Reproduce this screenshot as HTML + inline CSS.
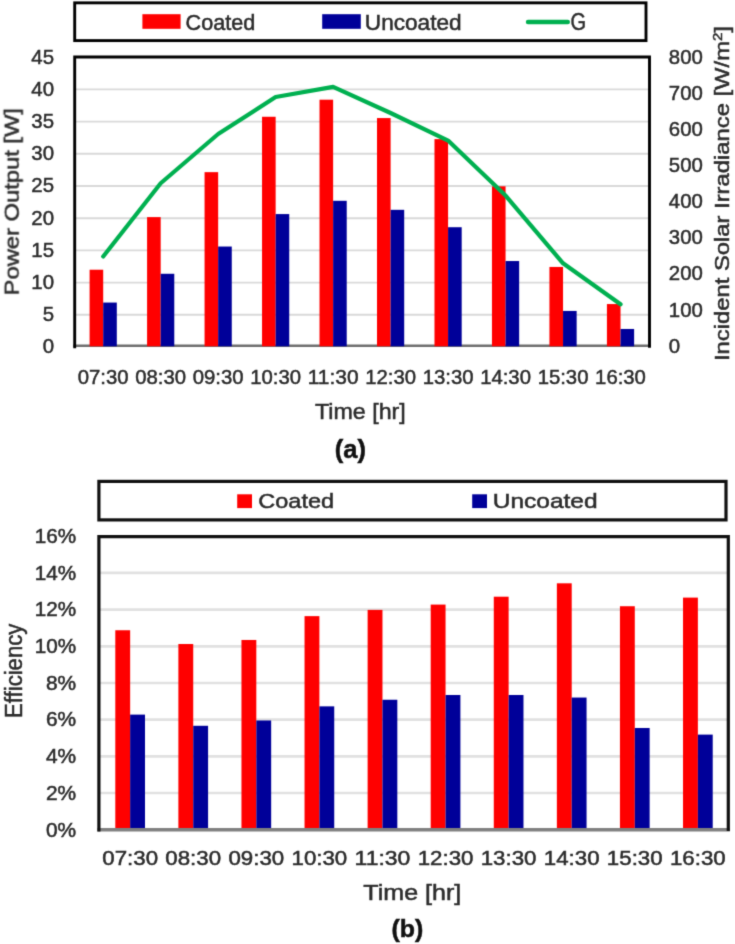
<!DOCTYPE html>
<html><head><meta charset="utf-8"><title>chart</title>
<style>
html,body{margin:0;padding:0;background:#fff;}
body{width:735px;height:944px;overflow:hidden;font-family:"Liberation Sans", sans-serif;}
svg{display:block;font-family:"Liberation Sans", sans-serif;will-change:transform;transform:translateZ(0);}
text{stroke-width:0.5px;paint-order:stroke fill;}
</style></head>
<body>
<svg width="735" height="944" viewBox="0 0 735 944">
<defs><filter id="soft" x="0" y="0" width="735" height="944" filterUnits="userSpaceOnUse" color-interpolation-filters="sRGB"><feConvolveMatrix order="3" kernelMatrix="0.01917 0.10012 0.01917 0.10012 0.52283 0.10012 0.01917 0.10012 0.01917" edgeMode="duplicate" preserveAlpha="false"/></filter></defs>
<rect width="735" height="944" fill="#ffffff"/>
<g filter="url(#soft)">
<rect width="735" height="944" fill="#ffffff"/>
<line x1="74.7" x2="649.5" y1="314.80" y2="314.80" stroke="#d9d9d9" stroke-width="1.9"/>
<line x1="74.7" x2="649.5" y1="282.60" y2="282.60" stroke="#d9d9d9" stroke-width="1.9"/>
<line x1="74.7" x2="649.5" y1="250.40" y2="250.40" stroke="#d9d9d9" stroke-width="1.9"/>
<line x1="74.7" x2="649.5" y1="218.20" y2="218.20" stroke="#d9d9d9" stroke-width="1.9"/>
<line x1="74.7" x2="649.5" y1="186.00" y2="186.00" stroke="#d9d9d9" stroke-width="1.9"/>
<line x1="74.7" x2="649.5" y1="153.80" y2="153.80" stroke="#d9d9d9" stroke-width="1.9"/>
<line x1="74.7" x2="649.5" y1="121.60" y2="121.60" stroke="#d9d9d9" stroke-width="1.9"/>
<line x1="74.7" x2="649.5" y1="89.40" y2="89.40" stroke="#d9d9d9" stroke-width="1.9"/>
<line x1="73.3" x2="651.0" y1="345.8" y2="345.8" stroke="#6e6e6e" stroke-width="2.6"/>
<rect x="89.60" y="269.72" width="13.6" height="76.58" fill="#ff0000"/>
<rect x="103.20" y="302.56" width="13.6" height="43.74" fill="#000099"/>
<rect x="147.08" y="217.11" width="13.6" height="129.19" fill="#ff0000"/>
<rect x="160.68" y="273.78" width="13.6" height="72.52" fill="#000099"/>
<rect x="204.56" y="172.15" width="13.6" height="174.15" fill="#ff0000"/>
<rect x="218.16" y="246.54" width="13.6" height="99.76" fill="#000099"/>
<rect x="262.04" y="116.77" width="13.6" height="229.53" fill="#ff0000"/>
<rect x="275.64" y="214.08" width="13.6" height="132.22" fill="#000099"/>
<rect x="319.52" y="99.70" width="13.6" height="246.60" fill="#ff0000"/>
<rect x="333.12" y="200.81" width="13.6" height="145.49" fill="#000099"/>
<rect x="377.00" y="118.06" width="13.6" height="228.24" fill="#ff0000"/>
<rect x="390.60" y="209.83" width="13.6" height="136.47" fill="#000099"/>
<rect x="434.48" y="139.12" width="13.6" height="207.18" fill="#ff0000"/>
<rect x="448.08" y="227.22" width="13.6" height="119.08" fill="#000099"/>
<rect x="491.96" y="186.32" width="13.6" height="159.98" fill="#ff0000"/>
<rect x="505.56" y="261.03" width="13.6" height="85.27" fill="#000099"/>
<rect x="549.44" y="266.95" width="13.6" height="79.35" fill="#ff0000"/>
<rect x="563.04" y="310.94" width="13.6" height="35.36" fill="#000099"/>
<rect x="606.92" y="304.05" width="13.6" height="42.25" fill="#ff0000"/>
<rect x="620.52" y="328.97" width="13.6" height="17.33" fill="#000099"/>
<polyline points="103.20,256.44 160.68,183.26 218.16,134.00 275.64,97.05 333.12,86.90 390.60,112.99 448.08,140.52 505.56,195.58 563.04,263.32 620.52,304.25" fill="none" stroke="#00b050" stroke-width="4.2" stroke-linejoin="round" stroke-linecap="round"/>
<path d="M74.7 348.3 V57 H649.5 V347.8" fill="none" stroke="#000" stroke-width="2.9" stroke-linejoin="miter"/>
<rect x="74.7" y="2.85" width="571.3" height="37.75" fill="#fff" stroke="#000" stroke-width="2.9"/>
<rect x="142.4" y="14.2" width="38.2" height="14.6" fill="#ff0000"/>
<text x="185.6" y="29.5" font-size="21.5" textLength="69.6" lengthAdjust="spacingAndGlyphs" fill="#2b2b2b" stroke="#2b2b2b">Coated</text>
<rect x="322.2" y="14.2" width="38.6" height="14.6" fill="#000099"/>
<text x="364.8" y="29.5" font-size="21.5" textLength="96.8" lengthAdjust="spacingAndGlyphs" fill="#2b2b2b" stroke="#2b2b2b">Uncoated</text>
<line x1="528" x2="567.8" y1="22.0" y2="22.0" stroke="#00b050" stroke-width="4.4" stroke-linecap="round"/>
<text x="570.6" y="29.8" font-size="23.5" textLength="15.6" lengthAdjust="spacingAndGlyphs" fill="#2b2b2b" stroke="#2b2b2b">G</text>
<text x="54.0" y="352.91" font-size="21" text-anchor="end" textLength="11.35" lengthAdjust="spacingAndGlyphs" fill="#2b2b2b" stroke="#2b2b2b">0</text>
<text x="54.0" y="320.82" font-size="21" text-anchor="end" textLength="11.35" lengthAdjust="spacingAndGlyphs" fill="#2b2b2b" stroke="#2b2b2b">5</text>
<text x="54.0" y="288.73" font-size="21" text-anchor="end" textLength="22.7" lengthAdjust="spacingAndGlyphs" fill="#2b2b2b" stroke="#2b2b2b">10</text>
<text x="54.0" y="256.64" font-size="21" text-anchor="end" textLength="22.7" lengthAdjust="spacingAndGlyphs" fill="#2b2b2b" stroke="#2b2b2b">15</text>
<text x="54.0" y="224.55" font-size="21" text-anchor="end" textLength="22.7" lengthAdjust="spacingAndGlyphs" fill="#2b2b2b" stroke="#2b2b2b">20</text>
<text x="54.0" y="192.46" font-size="21" text-anchor="end" textLength="22.7" lengthAdjust="spacingAndGlyphs" fill="#2b2b2b" stroke="#2b2b2b">25</text>
<text x="54.0" y="160.37" font-size="21" text-anchor="end" textLength="22.7" lengthAdjust="spacingAndGlyphs" fill="#2b2b2b" stroke="#2b2b2b">30</text>
<text x="54.0" y="128.28" font-size="21" text-anchor="end" textLength="22.7" lengthAdjust="spacingAndGlyphs" fill="#2b2b2b" stroke="#2b2b2b">35</text>
<text x="54.0" y="96.19" font-size="21" text-anchor="end" textLength="22.7" lengthAdjust="spacingAndGlyphs" fill="#2b2b2b" stroke="#2b2b2b">40</text>
<text x="54.0" y="64.10" font-size="21" text-anchor="end" textLength="22.7" lengthAdjust="spacingAndGlyphs" fill="#2b2b2b" stroke="#2b2b2b">45</text>
<text x="668.8" y="352.60" font-size="21" textLength="11.35" lengthAdjust="spacingAndGlyphs" fill="#2b2b2b" stroke="#2b2b2b">0</text>
<text x="668.8" y="316.50" font-size="21" textLength="34.0" lengthAdjust="spacingAndGlyphs" fill="#2b2b2b" stroke="#2b2b2b">100</text>
<text x="668.8" y="280.40" font-size="21" textLength="34.0" lengthAdjust="spacingAndGlyphs" fill="#2b2b2b" stroke="#2b2b2b">200</text>
<text x="668.8" y="244.30" font-size="21" textLength="34.0" lengthAdjust="spacingAndGlyphs" fill="#2b2b2b" stroke="#2b2b2b">300</text>
<text x="668.8" y="208.20" font-size="21" textLength="34.0" lengthAdjust="spacingAndGlyphs" fill="#2b2b2b" stroke="#2b2b2b">400</text>
<text x="668.8" y="172.10" font-size="21" textLength="34.0" lengthAdjust="spacingAndGlyphs" fill="#2b2b2b" stroke="#2b2b2b">500</text>
<text x="668.8" y="136.00" font-size="21" textLength="34.0" lengthAdjust="spacingAndGlyphs" fill="#2b2b2b" stroke="#2b2b2b">600</text>
<text x="668.8" y="99.90" font-size="21" textLength="34.0" lengthAdjust="spacingAndGlyphs" fill="#2b2b2b" stroke="#2b2b2b">700</text>
<text x="668.8" y="63.80" font-size="21" textLength="34.0" lengthAdjust="spacingAndGlyphs" fill="#2b2b2b" stroke="#2b2b2b">800</text>
<text x="103.20" y="384.3" font-size="21" text-anchor="middle" textLength="50.8" lengthAdjust="spacingAndGlyphs" fill="#2b2b2b" stroke="#2b2b2b">07:30</text>
<text x="160.68" y="384.3" font-size="21" text-anchor="middle" textLength="50.8" lengthAdjust="spacingAndGlyphs" fill="#2b2b2b" stroke="#2b2b2b">08:30</text>
<text x="218.16" y="384.3" font-size="21" text-anchor="middle" textLength="50.8" lengthAdjust="spacingAndGlyphs" fill="#2b2b2b" stroke="#2b2b2b">09:30</text>
<text x="275.64" y="384.3" font-size="21" text-anchor="middle" textLength="50.8" lengthAdjust="spacingAndGlyphs" fill="#2b2b2b" stroke="#2b2b2b">10:30</text>
<text x="333.12" y="384.3" font-size="21" text-anchor="middle" textLength="50.8" lengthAdjust="spacingAndGlyphs" fill="#2b2b2b" stroke="#2b2b2b">11:30</text>
<text x="390.60" y="384.3" font-size="21" text-anchor="middle" textLength="50.8" lengthAdjust="spacingAndGlyphs" fill="#2b2b2b" stroke="#2b2b2b">12:30</text>
<text x="448.08" y="384.3" font-size="21" text-anchor="middle" textLength="50.8" lengthAdjust="spacingAndGlyphs" fill="#2b2b2b" stroke="#2b2b2b">13:30</text>
<text x="505.56" y="384.3" font-size="21" text-anchor="middle" textLength="50.8" lengthAdjust="spacingAndGlyphs" fill="#2b2b2b" stroke="#2b2b2b">14:30</text>
<text x="563.04" y="384.3" font-size="21" text-anchor="middle" textLength="50.8" lengthAdjust="spacingAndGlyphs" fill="#2b2b2b" stroke="#2b2b2b">15:30</text>
<text x="620.52" y="384.3" font-size="21" text-anchor="middle" textLength="50.8" lengthAdjust="spacingAndGlyphs" fill="#2b2b2b" stroke="#2b2b2b">16:30</text>
<text x="360.4" y="419.4" font-size="22" text-anchor="middle" textLength="90.7" lengthAdjust="spacingAndGlyphs" fill="#2b2b2b" stroke="#2b2b2b">Time [hr]</text>
<text x="350.3" y="457.8" font-size="25.5" text-anchor="middle" font-weight="bold" fill="#111" stroke="#111">(a)</text>
<g transform="translate(18.7,201.7) rotate(-90)">
<text x="0" y="0" font-size="20.5" text-anchor="middle" textLength="187.3" lengthAdjust="spacingAndGlyphs" fill="#2b2b2b" stroke="#2b2b2b">Power Output [W]</text>
</g>
<g transform="translate(729.0,193.5) rotate(-90)">
<text x="0" y="0" font-size="20.5" text-anchor="middle" textLength="335" lengthAdjust="spacingAndGlyphs" fill="#2b2b2b" stroke="#2b2b2b">Incident Solar Irradiance [W/m<tspan font-size="13" dy="-7">2</tspan><tspan dy="7">]</tspan></text>
</g>
<line x1="98.9" x2="728.3" y1="793.02" y2="793.02" stroke="#e1e1e1" stroke-width="2.7"/>
<line x1="98.9" x2="728.3" y1="756.35" y2="756.35" stroke="#e1e1e1" stroke-width="2.7"/>
<line x1="98.9" x2="728.3" y1="719.67" y2="719.67" stroke="#e1e1e1" stroke-width="2.7"/>
<line x1="98.9" x2="728.3" y1="683.00" y2="683.00" stroke="#e1e1e1" stroke-width="2.7"/>
<line x1="98.9" x2="728.3" y1="646.32" y2="646.32" stroke="#e1e1e1" stroke-width="2.7"/>
<line x1="98.9" x2="728.3" y1="609.65" y2="609.65" stroke="#e1e1e1" stroke-width="2.7"/>
<line x1="98.9" x2="728.3" y1="572.97" y2="572.97" stroke="#e1e1e1" stroke-width="2.7"/>
<rect x="115.30" y="630.25" width="14.85" height="199.75" fill="#ff0000"/>
<rect x="130.15" y="714.61" width="14.85" height="115.39" fill="#000099"/>
<rect x="178.38" y="644.01" width="14.85" height="185.99" fill="#ff0000"/>
<rect x="193.23" y="725.79" width="14.85" height="104.21" fill="#000099"/>
<rect x="241.46" y="639.97" width="14.85" height="190.03" fill="#ff0000"/>
<rect x="256.31" y="720.48" width="14.85" height="109.52" fill="#000099"/>
<rect x="304.54" y="616.13" width="14.85" height="213.87" fill="#ff0000"/>
<rect x="319.39" y="706.36" width="14.85" height="123.64" fill="#000099"/>
<rect x="367.62" y="609.90" width="14.85" height="220.10" fill="#ff0000"/>
<rect x="382.47" y="699.75" width="14.85" height="130.25" fill="#000099"/>
<rect x="430.70" y="604.58" width="14.85" height="225.42" fill="#ff0000"/>
<rect x="445.55" y="694.99" width="14.85" height="135.01" fill="#000099"/>
<rect x="493.78" y="596.70" width="14.85" height="233.30" fill="#ff0000"/>
<rect x="508.63" y="694.99" width="14.85" height="135.01" fill="#000099"/>
<rect x="556.86" y="583.31" width="14.85" height="246.69" fill="#ff0000"/>
<rect x="571.71" y="697.55" width="14.85" height="132.45" fill="#000099"/>
<rect x="619.94" y="606.23" width="14.85" height="223.77" fill="#ff0000"/>
<rect x="634.79" y="727.99" width="14.85" height="102.01" fill="#000099"/>
<rect x="683.02" y="597.61" width="14.85" height="232.39" fill="#ff0000"/>
<rect x="697.87" y="734.60" width="14.85" height="95.40" fill="#000099"/>
<line x1="97.4" x2="729.9" y1="829.7" y2="829.7" stroke="#808080" stroke-width="3.6"/>
<path d="M98.9 831.6 V536.6 H728.3 V831" fill="none" stroke="#101010" stroke-width="3.2" stroke-linejoin="miter"/>
<rect x="98.9" y="481.4" width="627.1" height="38.5" fill="#fff" stroke="#101010" stroke-width="3.2"/>
<rect x="237.2" y="494.3" width="14.8" height="13.8" fill="#ff0000"/>
<text x="258.3" y="507.9" font-size="21" textLength="75.8" lengthAdjust="spacingAndGlyphs" fill="#2b2b2b" stroke="#2b2b2b">Coated</text>
<rect x="472.2" y="494.3" width="14.8" height="13.8" fill="#000099"/>
<text x="492.8" y="507.9" font-size="21" textLength="104.8" lengthAdjust="spacingAndGlyphs" fill="#2b2b2b" stroke="#2b2b2b">Uncoated</text>
<text x="76.2" y="836.50" font-size="19.8" text-anchor="end" textLength="30.2" lengthAdjust="spacingAndGlyphs" fill="#2b2b2b" stroke="#2b2b2b">0%</text>
<text x="76.2" y="799.83" font-size="19.8" text-anchor="end" textLength="30.2" lengthAdjust="spacingAndGlyphs" fill="#2b2b2b" stroke="#2b2b2b">2%</text>
<text x="76.2" y="763.15" font-size="19.8" text-anchor="end" textLength="30.2" lengthAdjust="spacingAndGlyphs" fill="#2b2b2b" stroke="#2b2b2b">4%</text>
<text x="76.2" y="726.48" font-size="19.8" text-anchor="end" textLength="30.2" lengthAdjust="spacingAndGlyphs" fill="#2b2b2b" stroke="#2b2b2b">6%</text>
<text x="76.2" y="689.80" font-size="19.8" text-anchor="end" textLength="30.2" lengthAdjust="spacingAndGlyphs" fill="#2b2b2b" stroke="#2b2b2b">8%</text>
<text x="76.2" y="653.12" font-size="19.8" text-anchor="end" textLength="41.4" lengthAdjust="spacingAndGlyphs" fill="#2b2b2b" stroke="#2b2b2b">10%</text>
<text x="76.2" y="616.45" font-size="19.8" text-anchor="end" textLength="41.4" lengthAdjust="spacingAndGlyphs" fill="#2b2b2b" stroke="#2b2b2b">12%</text>
<text x="76.2" y="579.77" font-size="19.8" text-anchor="end" textLength="41.4" lengthAdjust="spacingAndGlyphs" fill="#2b2b2b" stroke="#2b2b2b">14%</text>
<text x="76.2" y="543.10" font-size="19.8" text-anchor="end" textLength="41.4" lengthAdjust="spacingAndGlyphs" fill="#2b2b2b" stroke="#2b2b2b">16%</text>
<text x="130.15" y="865.4" font-size="20" text-anchor="middle" textLength="55.8" lengthAdjust="spacingAndGlyphs" fill="#2b2b2b" stroke="#2b2b2b">07:30</text>
<text x="193.23" y="865.4" font-size="20" text-anchor="middle" textLength="55.8" lengthAdjust="spacingAndGlyphs" fill="#2b2b2b" stroke="#2b2b2b">08:30</text>
<text x="256.31" y="865.4" font-size="20" text-anchor="middle" textLength="55.8" lengthAdjust="spacingAndGlyphs" fill="#2b2b2b" stroke="#2b2b2b">09:30</text>
<text x="319.39" y="865.4" font-size="20" text-anchor="middle" textLength="55.8" lengthAdjust="spacingAndGlyphs" fill="#2b2b2b" stroke="#2b2b2b">10:30</text>
<text x="382.47" y="865.4" font-size="20" text-anchor="middle" textLength="55.8" lengthAdjust="spacingAndGlyphs" fill="#2b2b2b" stroke="#2b2b2b">11:30</text>
<text x="445.55" y="865.4" font-size="20" text-anchor="middle" textLength="55.8" lengthAdjust="spacingAndGlyphs" fill="#2b2b2b" stroke="#2b2b2b">12:30</text>
<text x="508.63" y="865.4" font-size="20" text-anchor="middle" textLength="55.8" lengthAdjust="spacingAndGlyphs" fill="#2b2b2b" stroke="#2b2b2b">13:30</text>
<text x="571.71" y="865.4" font-size="20" text-anchor="middle" textLength="55.8" lengthAdjust="spacingAndGlyphs" fill="#2b2b2b" stroke="#2b2b2b">14:30</text>
<text x="634.79" y="865.4" font-size="20" text-anchor="middle" textLength="55.8" lengthAdjust="spacingAndGlyphs" fill="#2b2b2b" stroke="#2b2b2b">15:30</text>
<text x="697.87" y="865.4" font-size="20" text-anchor="middle" textLength="55.8" lengthAdjust="spacingAndGlyphs" fill="#2b2b2b" stroke="#2b2b2b">16:30</text>
<text x="412.3" y="900.2" font-size="21.5" text-anchor="middle" textLength="97.9" lengthAdjust="spacingAndGlyphs" fill="#2b2b2b" stroke="#2b2b2b">Time [hr]</text>
<text x="407.3" y="937.3" font-size="23.7" text-anchor="middle" textLength="31.8" lengthAdjust="spacingAndGlyphs" font-weight="bold" fill="#111" stroke="#111">(b)</text>
<g transform="translate(22.0,670.8) rotate(-90)">
<text x="0" y="0" font-size="23.5" text-anchor="middle" textLength="94.2" lengthAdjust="spacingAndGlyphs" fill="#2b2b2b" stroke="#2b2b2b">Efficiency</text>
</g>
</g>
</svg>
</body></html>
